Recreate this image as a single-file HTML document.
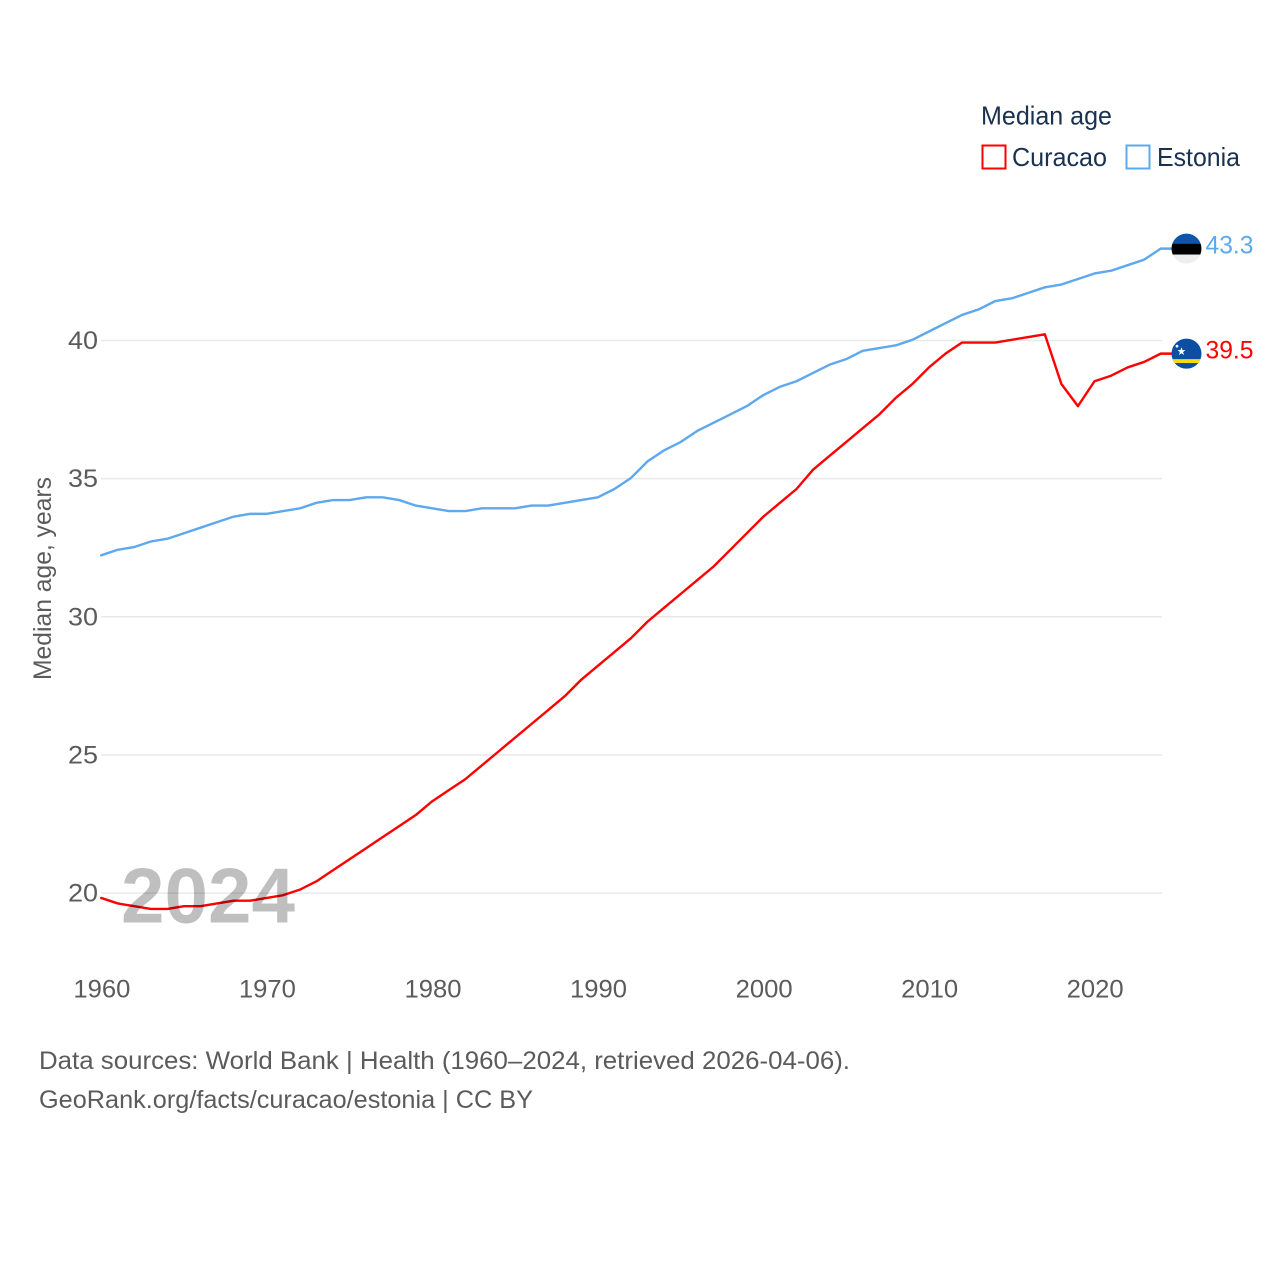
<!DOCTYPE html>
<html lang="en">
<head>
<meta charset="utf-8">
<title>Median age: Curacao and Estonia</title>
<style>
html,body{margin:0;padding:0;background:#fff;}
svg{display:block;font-family:"Liberation Sans",sans-serif;}
</style>
</head>
<body>
<svg id="chart" width="1280" height="1280" viewBox="0 0 1280 1280" xmlns="http://www.w3.org/2000/svg">
  <defs>
    <clipPath id="flag-clip"><circle cx="0" cy="0" r="15"></circle></clipPath>
  </defs>
  <rect width="1280" height="1280" fill="#ffffff"></rect>
  <g id="grid"></g>
  <g id="ylabels"></g>
  <g id="xlabels"></g>
  <text transform="translate(51,680) rotate(-90)" font-size="25" fill="#5b5b5b" textLength="203" lengthAdjust="spacingAndGlyphs">Median age, years</text>
  <g id="series"></g>
  <text x="121" y="922.5" font-size="78" font-weight="bold" fill="rgba(0,0,0,0.25)" textLength="174" lengthAdjust="spacingAndGlyphs">2024</text>
  <g id="ends"></g>
  <g>
    <text x="981" y="124.5" font-size="26" fill="#1a3150" textLength="131" lengthAdjust="spacingAndGlyphs">Median age</text>
    <g>
      <rect x="982.5" y="145.5" width="23" height="23" fill="#fff" stroke="#ff0000" stroke-width="2"></rect>
      <text x="1012" y="166" font-size="26" fill="#1a3150" textLength="95" lengthAdjust="spacingAndGlyphs">Curacao</text>
    </g>
    <g>
      <rect x="1126.5" y="145.5" width="23" height="23" fill="#fff" stroke="#5da8ee" stroke-width="2"></rect>
      <text x="1157" y="166" font-size="26" fill="#1a3150" textLength="83" lengthAdjust="spacingAndGlyphs">Estonia</text>
    </g>
  </g>
  <g>
    <text x="39" y="1069" font-size="25" fill="#5b5b5b" textLength="811" lengthAdjust="spacingAndGlyphs">Data sources: World Bank | Health (1960–2024, retrieved 2026-04-06).</text>
    <text x="39" y="1108" font-size="25" fill="#5b5b5b" textLength="494" lengthAdjust="spacingAndGlyphs">GeoRank.org/facts/curacao/estonia | CC BY</text>
  </g>
</svg>
<script>
const firstYear = 1960;
const curacaoValues = [19.8,19.6,19.5,19.4,19.4,19.5,19.5,19.6,19.7,19.7,19.8,19.9,20.1,20.4,20.8,21.2,21.6,22.0,22.4,22.8,23.3,23.7,24.1,24.6,25.1,25.6,26.1,26.6,27.1,27.7,28.2,28.7,29.2,29.8,30.3,30.8,31.3,31.8,32.4,33.0,33.6,34.1,34.6,35.3,35.8,36.3,36.8,37.3,37.9,38.4,39.0,39.5,39.9,39.9,39.9,40.0,40.1,40.2,38.4,37.6,38.5,38.7,39.0,39.2,39.5];
const estoniaValues = [32.2,32.4,32.5,32.7,32.8,33.0,33.2,33.4,33.6,33.7,33.7,33.8,33.9,34.1,34.2,34.2,34.3,34.3,34.2,34.0,33.9,33.8,33.8,33.9,33.9,33.9,34.0,34.0,34.1,34.2,34.3,34.6,35.0,35.6,36.0,36.3,36.7,37.0,37.3,37.6,38.0,38.3,38.5,38.8,39.1,39.3,39.6,39.7,39.8,40.0,40.3,40.6,40.9,41.1,41.4,41.5,41.7,41.9,42.0,42.2,42.4,42.5,42.7,42.9,43.3];
const yTicks = [20,25,30,35,40];
const xTicks = [1960,1970,1980,1990,2000,2010,2020];

const NS = 'http://www.w3.org/2000/svg';
const xScale = function (year) { return 101.2 + (year - 1960) * 16.555; };
const yScale = function (v) { return 340.5 + (40 - v) * 27.63; };
const lineY = function (v) { return yScale(v) - 0.7; };
const gridG = document.getElementById('grid');
const ylabG = document.getElementById('ylabels');
const xlabG = document.getElementById('xlabels');
const seriesG = document.getElementById('series');
const endsG = document.getElementById('ends');

function make(tag, parent, attrs) {
  const el = document.createElementNS(NS, tag);
  Object.keys(attrs).forEach(function (k) { el.setAttribute(k, attrs[k]); });
  parent.appendChild(el);
  return el;
}

yTicks.forEach(function (t) {
  const line = make('line', gridG, { x1: 101, x2: 1162, y1: yScale(t), y2: yScale(t), stroke: '#e9e9e9', 'stroke-width': 1.5 });
  
  
  const lab = make('text', ylabG, { x: 98, y: yScale(t) + 8.5, 'text-anchor': 'end', 'font-size': 25, fill: '#5b5b5b', textLength: 30, lengthAdjust: 'spacingAndGlyphs' });
  
  
  lab.textContent = String(t);
});

xTicks.forEach(function (t) {
  const lab = make('text', xlabG, { x: xScale(t) - 27.8, y: 997.5, 'font-size': 25, fill: '#5b5b5b', textLength: 57, lengthAdjust: 'spacingAndGlyphs' });
  
  
  lab.textContent = String(t);
});

function drawLine(values, color, key) {
  const pts = values.map(function (v, i) { return xScale(firstYear + i).toFixed(2) + ',' + lineY(v).toFixed(2); });
  const last = values[values.length - 1];
  pts.push('1172,' + lineY(last).toFixed(2));
  const poly = make('polyline', seriesG, { points: pts.join(' '), fill: 'none', stroke: color, 'stroke-width': 2.4, 'stroke-linejoin': 'round', 'stroke-linecap': 'round' });
  
  
}

function drawFlag(parent, key) {
  const clip = make('g', parent, { 'clip-path': 'url(#flag-clip)' });
  
  
  if (key === 'estonia') {
    make('rect', clip, { x: -16, y: -16, width: 32, height: 11, fill: '#0b55ad' });
    make('rect', clip, { x: -16, y: -5, width: 32, height: 11, fill: '#000000' });
    make('rect', clip, { x: -16, y: 6, width: 32, height: 11, fill: '#eeeeee' });
  } else {
    make('rect', clip, { x: -16, y: -16, width: 32, height: 32, fill: '#0b4ea2' });
    make('rect', clip, { x: -16, y: 5.5, width: 32, height: 4, fill: '#f9d90f' });
    make('rect', clip, { x: -16, y: 9.5, width: 32, height: 7, fill: '#0b4ea2' });
    make('polygon', clip, { points: '-5,-6.5 -4,-3.5 -1,-3.5 -3.4,-1.6 -2.5,1.4 -5,-0.4 -7.5,1.4 -6.6,-1.6 -9,-3.5 -6,-3.5', fill: '#ffffff' });
    make('circle', clip, { cx: -9.5, cy: -7.5, r: 1.4, fill: '#ffffff' });
  }
}

function drawEnd(values, color, key) {
  const last = values[values.length - 1];
  const cy = lineY(last);
  const g = make('g', endsG, { transform: 'translate(1186.5,' + cy.toFixed(2) + ')' });
  
  
  drawFlag(g, key);
  const lab = make('text', endsG, { x: 1205.5, y: (cy + 5).toFixed(2), 'font-size': 25, fill: color, textLength: 48, lengthAdjust: 'spacingAndGlyphs' });
  
  
  lab.textContent = last.toFixed(1);
}

drawLine(estoniaValues, '#5da8ee', 'estonia');
drawLine(curacaoValues, '#ff0000', 'curacao');
drawEnd(estoniaValues, '#5da8ee', 'estonia');
drawEnd(curacaoValues, '#ff0000', 'curacao');
</script>
</body>
</html>
